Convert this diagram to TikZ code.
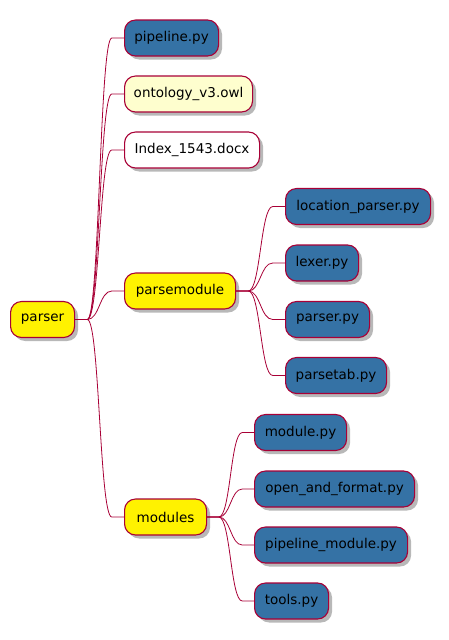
\documentclass[tikz,border=0pt]{standalone}
\usepackage{fontspec}
\setmainfont{DejaVu Sans}
\usetikzlibrary{calc,shadows}
\definecolor{pyblue}{HTML}{3572A5}
\definecolor{lightyel}{HTML}{FEFECE}
\definecolor{edge}{HTML}{A80036}
\tikzset{
  mm/.style={draw=edge, line width=1.1pt, rounded corners=11pt, minimum height=36pt,
    inner xsep=0pt, anchor=west, font=\fontsize{13.5}{16}\selectfont,
    drop shadow={shadow xshift=3.5pt, shadow yshift=-3.5pt, fill=black, opacity=0.28}},
  blue/.style={mm, fill=pyblue},
  lyel/.style={mm, fill=lightyel},
  yel/.style={mm, fill=yellow},
  wht/.style={mm, fill=white},
  conn/.style={draw=edge, line width=0.8pt}
}
\newcommand\mmconn[2]{%
  \draw[conn] let \p1=(#1.east), \p2=(#2.west), \n1={(\x2-\x1)/4}, \n2={(\x1+\x2)/2} in
    (\p1) -- (\x1+\n1,\y1) .. controls (\n2,\y1) and (\n2,\y2) .. (\x2-\n1,\y2) -- (\p2);}
\begin{document}
\begin{tikzpicture}[x=1pt,y=-1pt]
\useasboundingbox (0,0) rectangle (448,640);
\node[yel, minimum width=64pt] (parser) at (10,319.5) {parser};
\node[blue, minimum width=94pt] (pipeline) at (124,38) {pipeline.py};
\node[lyel, minimum width=128pt] (ontology) at (124,94) {ontology\_v3.owl};
\node[wht, minimum width=135pt] (index) at (124,150) {Index\_1543.docx};
\node[yel, minimum width=111pt] (parsemodule) at (124,291) {parsemodule};
\node[yel, minimum width=82pt] (modules) at (124,517) {modules};
\node[blue, minimum width=145pt] (location) at (285,206.5) {location\_parser.py};
\node[blue, minimum width=73pt] (lexer) at (285,263) {lexer.py};
\node[blue, minimum width=84pt] (parserpy) at (285,319.5) {parser.py};
\node[blue, minimum width=101pt] (parsetab) at (285,375.5) {parsetab.py};
\node[blue, minimum width=92pt] (module) at (254,432.5) {module.py};
\node[blue, minimum width=160pt] (openfmt) at (254,489) {open\_and\_format.py};
\node[blue, minimum width=153pt] (pipemod) at (254,545) {pipeline\_module.py};
\node[blue, minimum width=74pt] (tools) at (254,601) {tools.py};
\mmconn{parser}{pipeline}
\mmconn{parser}{ontology}
\mmconn{parser}{index}
\mmconn{parser}{parsemodule}
\mmconn{parser}{modules}
\mmconn{parsemodule}{location}
\mmconn{parsemodule}{lexer}
\mmconn{parsemodule}{parserpy}
\mmconn{parsemodule}{parsetab}
\mmconn{modules}{module}
\mmconn{modules}{openfmt}
\mmconn{modules}{pipemod}
\mmconn{modules}{tools}
\end{tikzpicture}
\end{document}
